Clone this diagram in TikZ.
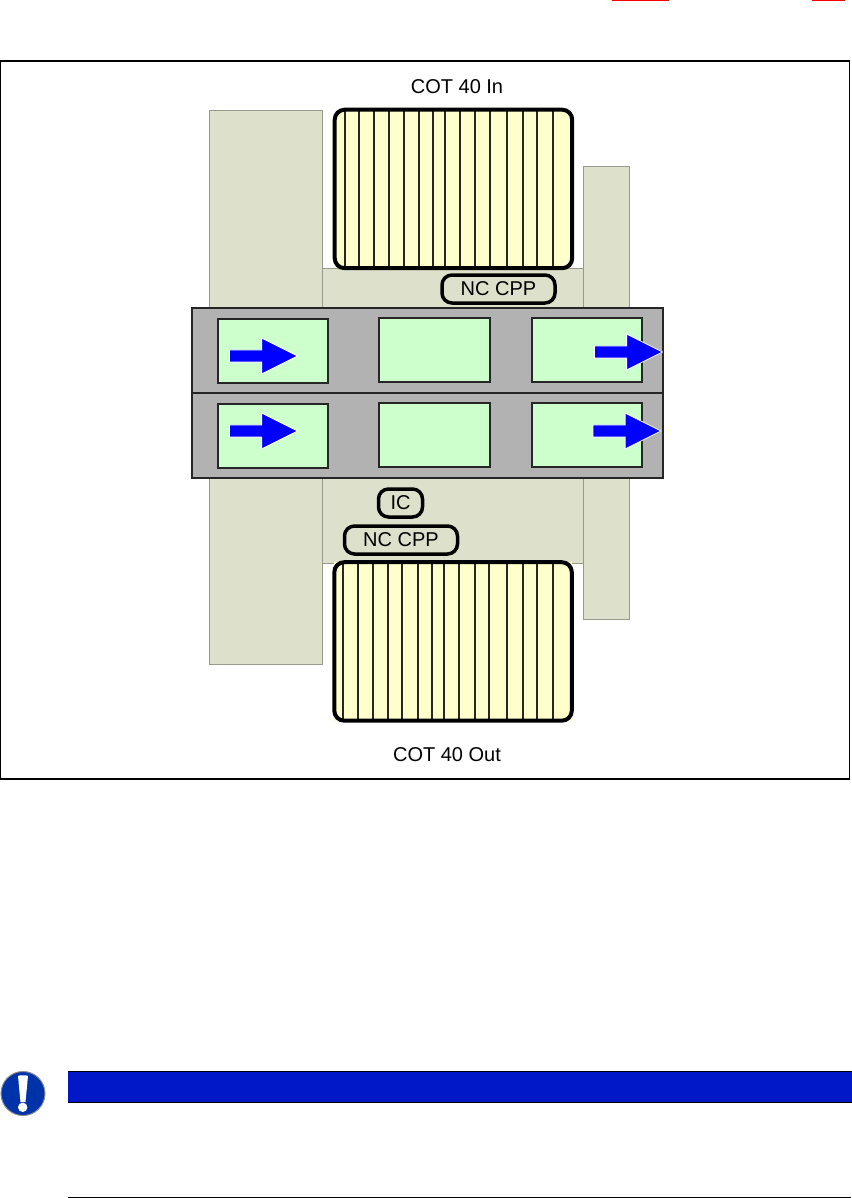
\documentclass[tikz,border=0pt]{standalone}
\usepackage{fontspec}
\setmainfont{Liberation Sans}
\usepackage{xcolor}
\usetikzlibrary{shapes,arrows,positioning}

\definecolor{tanfill}{HTML}{DDE1CB}
\definecolor{tanline}{HTML}{999A8C}
\definecolor{rowgrey}{HTML}{B2B2B2}
\definecolor{cellgreen}{HTML}{CCFFCC}
\definecolor{cotyellow}{HTML}{FFFFCC}
\definecolor{barblue}{HTML}{0018C8}
\definecolor{iconblue}{HTML}{0033AA}

\begin{document}
\begin{tikzpicture}[
    x=1pt, y=-1pt,
    every node/.style={outer sep=0pt, inner sep=0pt, anchor=north west},
    block/.style={rectangle, draw=tanline, line width=0.8pt, fill=tanfill},
    cotbox/.style={rectangle, fill=cotyellow, minimum width=237.5pt, minimum height=158.5pt},
    cotrim/.style={draw=black, line width=4pt, rounded corners=10pt},
    slat/.style={draw=black!85, line width=1.3pt},
    row/.style={rectangle, draw=black!85, line width=1.1pt, fill=rowgrey, minimum width=471pt, minimum height=85pt},
    cell/.style={rectangle, draw=black!85, line width=1.1pt, fill=cellgreen, minimum width=110pt, minimum height=64pt},
    flow/.style={single arrow, draw=white, line width=0.8pt, fill=blue, anchor=tail, inner sep=5.7pt, minimum width=35pt, minimum height=68pt, single arrow head extend=11.8pt, single arrow tip angle=53, shape border rotate=0},
    pill/.style={rectangle, draw=black, line width=3.5pt, rounded corners=10pt, fill=tanfill, anchor=center, minimum height=28pt, font=\fontsize{20}{24}\selectfont},
    caption/.style={anchor=center, font=\fontsize{20}{24}\selectfont}
]
\useasboundingbox (0,0) rectangle (851,1198);

% Page remains
\fill[red] (612,0) rectangle (669,1.3);
\fill[red] (812,0) rectangle (845,1.3);

% Frame
\node[rectangle, draw=black, line width=1.3pt, minimum width=849pt, minimum height=718pt] (frame) at (0.7,61) {};

% Tan blocks
\node[block, minimum width=374pt, minimum height=295pt] (band) at (209,268) {};
\node[block, minimum width=113pt, minimum height=554pt] (blockleft) at (209,110) {};
\node[block, minimum width=46pt, minimum height=453pt] (blockright) at (583,166) {};

% COT In
\node[cotbox] (cotin) at (334.7,109.7) {};
\foreach \x in {345,359,374,389,404,419,433,445,460,475,490,507,523,537,553}
    \draw[slat] (\x,0 |- cotin.north) -- (\x,0 |- cotin.south);
\draw[cotrim] (cotin.north west) rectangle (cotin.south east);

% COT Out
\node[cotbox] (cotout) at (334.3,562.2) {};
\foreach \x in {343,358,373,388,402,418,432,444,459,475,489,507,523,537,553}
    \draw[slat] (\x,0 |- cotout.north) -- (\x,0 |- cotout.south);
\draw[cotrim] (cotout.north west) rectangle (cotout.south east);

% Rows
\node[row] (rowa) at (192,308) {};
\node[row, below=0pt of rowa] (rowb) {};

\node[cell] (cellaa) at (218,319) {};
\node[cell, anchor=west, minimum width=111pt] (cellab) at (379,350) {};
\node[cell, anchor=west, right=42pt of cellab] (cellac) {};
\node[cell] (cellba) at (218,404) {};
\node[cell, anchor=west, minimum width=111pt] (cellbb) at (379,435) {};
\node[cell, anchor=west, right=42pt of cellbb] (cellbc) {};

% Arrows
\node[flow] (flowaa) at (229.5,356) {};
\node[flow] (flowac) at (594.5,352) {};
\node[flow] (flowba) at (229.5,431) {};
\node[flow] (flowbc) at (593,431) {};

% Labels
\node[pill, minimum width=113pt] (cppin) at (498.5,289) {NC CPP};
\node[pill, minimum width=44pt] (ic) at (400.5,503) {IC};
\node[pill, minimum width=113pt] (cppout) at (401,540) {NC CPP};
\node[caption] (labelin) at (457,87) {COT 40 In};
\node[caption] (labelout) at (447,755) {COT 40 Out};

% Notice bar
\node[rectangle, fill=barblue, minimum width=784pt, minimum height=31pt] (bar) at (68,1071.5) {};
\draw[black, line width=1pt] (bar.north west) -- (bar.north east);
\draw[black, line width=1pt] (bar.south west) -- (bar.south east);
\draw[black, line width=1pt] (68,1197) -- (851,1197);

% Notice icon
\node[circle, draw=black!45, line width=1pt, fill=iconblue, anchor=center, minimum size=44pt] (icon) at (23,1093.5) {};
\fill[white] (18,1076) .. controls (19,1075) and (27,1075) .. (28,1076) -- (25.5,1102) -- (20.5,1102) -- cycle;
\fill[white] (22.7,1107.3) circle (4.7);
\end{tikzpicture}
\end{document}
